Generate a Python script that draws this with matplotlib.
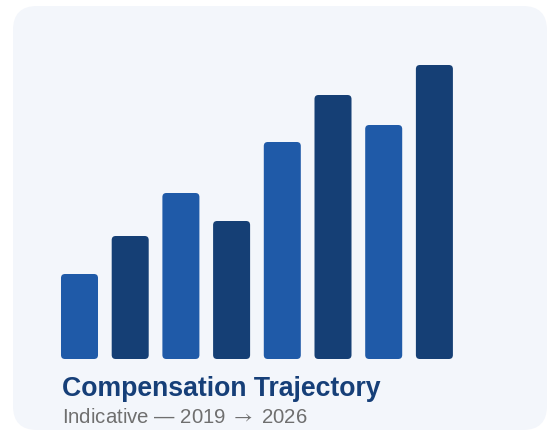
import matplotlib
matplotlib.use('Agg')
import matplotlib.pyplot as plt
from matplotlib.patches import FancyBboxPatch
from matplotlib.transforms import IdentityTransform

plt.rcParams['mathtext.fontset'] = 'stix'

# data (relative pay index)
years = ['2019', '2020', '2021', '2022', '2023', '2024', '2025', '2026']
values = [85, 123, 166, 138, 217, 264, 234, 294]
colors = ['#1f5aa8', '#153f75'] * 4

title = 'Compensation Trajectory'
subtitle = 'Indicative \u2014 2019 $\\rightarrow$ 2026'

W, H = 550, 431
fig = plt.figure(figsize=(W / 100, H / 100), dpi=100)
fig.patch.set_facecolor('white')

# card background, drawn in pixel space
card = FancyBboxPatch((13, 0), 534, 424, boxstyle='round,pad=0,rounding_size=24',
                      facecolor='#f3f6fb', edgecolor='none', zorder=-1)
card.set_transform(IdentityTransform())
fig.patches.append(card)

# axes mapped so 1 y-unit = 1 px
pitch = 50.7
x0 = 79.5 - pitch / 2
ax = fig.add_axes([x0 / W, (H - 360) / H, 8 * pitch / W, 294 / H])
ax.set_xlim(-0.5, 7.5)
ax.set_ylim(0, 294)
ax.axis('off')

bars = ax.bar(range(len(values)), values, width=0.73, color=colors)
r = 4
for b in bars:
    x, y = b.get_x(), b.get_y()
    w, h = b.get_width(), b.get_height()
    fb = FancyBboxPatch((x, y), w, h,
                        boxstyle=f'round,pad=0,rounding_size={r / pitch}',
                        mutation_aspect=pitch, facecolor=b.get_facecolor(),
                        edgecolor='none')
    ax.add_patch(fb)
    b.remove()

fig.text(62 / W, (H - 396) / H, title, fontsize=19.2, fontweight='bold',
         color='#163f78', family=['Liberation Sans', 'DejaVu Sans'])
fig.text(62 / W, (H - 423) / H, subtitle, fontsize=14.7,
         color='#6f6f6f', family=['Liberation Sans', 'DejaVu Sans'])

fig.savefig('out.png', dpi=100, facecolor='white')
